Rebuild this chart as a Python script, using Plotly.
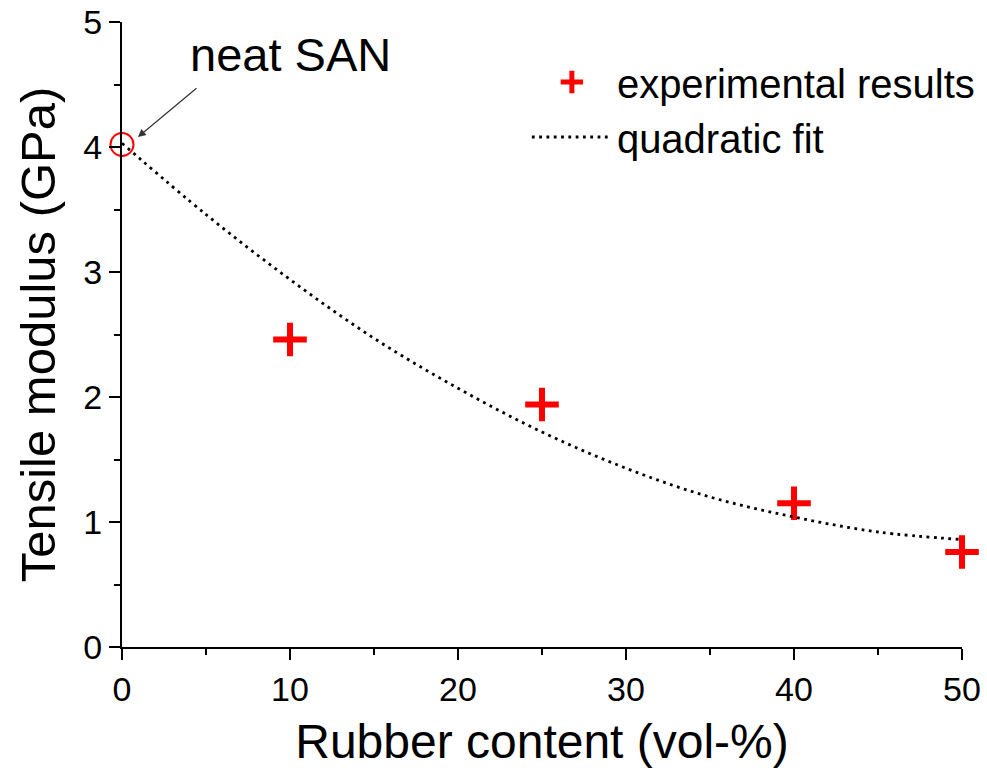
import plotly.graph_objects as go

rubber_exp = [10, 25, 40, 50]
modulus_exp = [2.46, 1.94, 1.15, 0.76]

# Neat SAN point
rubber_neat = [0]
modulus_neat = [4.02]

# Quadratic fit curve
rubber_fit = [0, 5, 10, 15, 20, 25, 30, 35, 40, 45, 50]
modulus_fit = [4.03, 3.46, 2.94, 2.47, 2.07, 1.72, 1.43, 1.20, 1.04, 0.92, 0.86]

x_ticks = [0, 10, 20, 30, 40, 50]
y_ticks = [0, 1, 2, 3, 4, 5]

FONT = "Liberation Sans, Arial, sans-serif"

fig = go.Figure()

fig.add_trace(go.Scatter(
    x=rubber_exp, y=modulus_exp, mode="markers", name="experimental results",
    marker=dict(symbol="cross-thin", size=24, color="red",
                line=dict(color="red", width=6)),
    cliponaxis=False,
))
fig.add_trace(go.Scatter(
    x=rubber_fit, y=modulus_fit, mode="lines", name="quadratic fit",
    line=dict(color="black", width=2.8, dash="2.8px,4.5px", shape="spline"),
))
fig.add_trace(go.Scatter(
    x=rubber_neat, y=modulus_neat, mode="markers", showlegend=False,
    marker=dict(symbol="circle-open", size=23, color="red",
                line=dict(color="red", width=2)),
    cliponaxis=False,
))

fig.add_annotation(x=0.95, y=4.08, xref="x", yref="y", text="",
                   showarrow=True, ax=60, ay=-50, arrowhead=2, arrowsize=1.3,
                   arrowwidth=1.2, arrowcolor="#333")
fig.add_annotation(x=10.0, y=4.74, xref="x", yref="y", text="neat SAN",
                   showarrow=False, font=dict(size=47, color="black", family=FONT))

axis_common = dict(
    showline=True, linecolor="black", linewidth=2, mirror=False,
    ticks="outside", ticklen=11, tickwidth=2, tickcolor="black",
    showgrid=False, zeroline=False, automargin=False,
    tickfont=dict(size=34, color="black", family=FONT),
)

fig.update_xaxes(
    range=[0, 50], tickvals=x_ticks, ticktext=[str(v) for v in x_ticks],
    title=dict(text="Rubber content (vol-%)", font=dict(size=48, color="black", family=FONT), standoff=18),
    minor=dict(ticks="outside", ticklen=6, tickwidth=2, tickcolor="black", dtick=5, tick0=0),
    **axis_common,
)
fig.update_yaxes(
    range=[0, 5], tickvals=y_ticks, ticktext=[str(v) for v in y_ticks],
    title=dict(text="Tensile modulus (GPa)", font=dict(size=49, color="black", family=FONT), standoff=12),
    minor=dict(ticks="outside", ticklen=6, tickwidth=2, tickcolor="black", dtick=0.5, tick0=0),
    **axis_common,
)

fig.update_layout(
    width=987, height=771,
    margin=dict(l=122, r=25, t=22, b=124, autoexpand=False),
    paper_bgcolor="white", plot_bgcolor="white",
    showlegend=True,
    legend=dict(x=0.482, y=0.956, xanchor="left", yanchor="top",
                font=dict(size=40, color="black", family=FONT),
                bgcolor="rgba(0,0,0,0)", itemwidth=80, tracegroupgap=0),
)

fig.write_html("out.html")
